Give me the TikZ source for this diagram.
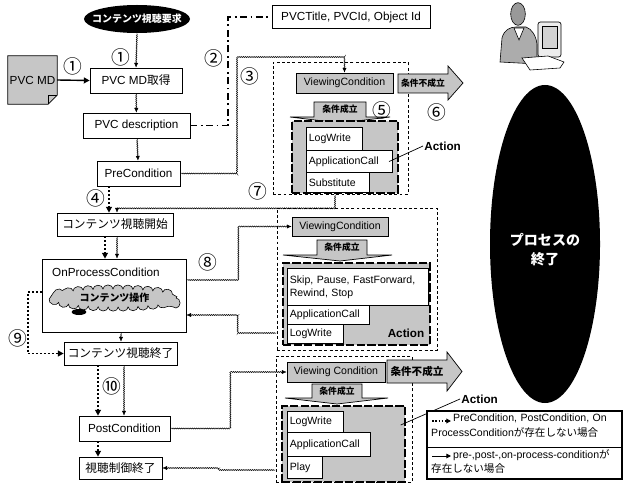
\documentclass[tikz,border=0pt]{standalone}
\usepackage{fontspec}
\usepackage{tikz}
\usetikzlibrary{arrows.meta,decorations.pathmorphing}
\setmainfont{Liberation Sans}
\newfontfamily\jpfont{Noto Sans CJK JP}
\newcommand{\ja}[1]{{\jpfont #1}}

\begin{document}
\begin{tikzpicture}[x=0.03cm, y=-0.03cm,
    box/.style={draw, line width=0.6pt, fill=white, inner sep=2pt,
        font=\fontsize{10}{12}\selectfont},
    hatch/.style={draw, line width=0.6pt, fill=gray!45, inner sep=1pt,
        font=\fontsize{9}{10}\selectfont},
    item/.style={draw, line width=0.9pt, fill=white, inner sep=2pt,
        anchor=north west, align=left, font=\fontsize{9}{11}\selectfont},
    group/.style={draw, line width=0.5pt, dash pattern=on 2.5pt off 2pt,
        inner sep=0pt},
    act/.style={draw, line width=1.2pt, dash pattern=on 7pt off 2pt,
        fill=gray!45, inner sep=0pt},
    num/.style={font=\jpfont\fontsize{16}{16}\selectfont, inner sep=0pt},
    flow/.style={line width=0.4pt, decorate,
        decoration={zigzag, amplitude=0.5pt, segment length=1.6pt,
            pre length=1pt, post length=3pt},
        -{Latex[length=4pt, width=3.5pt]}},
    skip/.style={line width=1.6pt, dash pattern=on 1.6pt off 1.8pt,
        -{Triangle[length=5pt, width=5pt]}},
    ]
    \useasboundingbox (0,0) rectangle (629,484);
    \fill[white] (0,0) rectangle (629,484);

    % Left column: request and metadata
    \fill (137,19) ellipse [x radius=1.59cm, y radius=0.42cm];
    \node[text=white, minimum width=3.18cm, minimum height=0.84cm, inner sep=0pt,
        font=\jpfont\bfseries\fontsize{8.5}{10}\selectfont] (req) at (137,19) {コンテンツ視聴要求};
    \node[minimum width=1.47cm, minimum height=1.44cm, inner sep=0pt,
        font=\fontsize{10}{12}\selectfont] (md) at (32.5,80) {};
    \filldraw[fill=gray!45, line width=0.6pt] (md.north west) -- (md.north east)
        -- ([yshift=0.27cm]md.south east) -- ([xshift=-0.27cm]md.south east)
        -- (md.south west) -- cycle;
    \draw[line width=0.6pt] ([yshift=0.27cm]md.south east) -- ([shift={(-0.27cm,0.27cm)}]md.south east)
        -- ([xshift=-0.27cm]md.south east);
    \node[font=\fontsize{10}{12}\selectfont, inner sep=0pt] (mdt) at (32.5,80) {PVC MD};

    \node[box, minimum width=2.76cm, minimum height=0.75cm] (get) at (136,80.5) {PVC MD\ja{取得}};
    \node[box, minimum width=3.21cm, minimum height=0.75cm] (desc) at (136.5,125.5) {PVC description};
    \node[box, minimum width=2.49cm, minimum height=0.75cm] (pre) at (138.5,173.5) {PreCondition};
    \node[box, minimum width=3.48cm, minimum height=0.69cm] (start) at (115,224.5) {\ja{コンテンツ視聴開始}};
    \node[box, minimum width=4.32cm, minimum height=2.19cm] (opc) at (114,295.5) {};
    \node[font=\fontsize{10}{12}\selectfont, anchor=west, inner sep=0pt] (opct) at (52,272) {OnProcessCondition};
    % cloud of user operations
    \filldraw[fill=gray!45, line width=0.5pt, decorate, decoration={bumps, segment length=17pt, amplitude=3.5pt}]
        (176,298) arc [start angle=0, end angle=-360, x radius=1.85cm, y radius=0.27cm];
    \fill (79,312) ellipse [x radius=0.22cm, y radius=0.09cm];
    \node[font=\jpfont\bfseries\fontsize{8.5}{10}\selectfont, inner sep=0pt] (ops) at (114.5,298) {コンテンツ操作};
    \node[box, minimum width=3.39cm, minimum height=0.69cm] (end) at (120.5,353.5) {\ja{コンテンツ視聴終了}};
    \node[box, minimum width=2.73cm, minimum height=0.75cm] (post) at (124.5,428.5) {PostCondition};
    \node[box, minimum width=2.49cm, minimum height=0.66cm] (stop) at (120.5,468) {\ja{視聴制御終了}};

    % Attribute box
    \node[box, minimum width=4.74cm, minimum height=0.69cm] (ttl) at (351,17) {PVCTitle, PVCId, Object Id};

    % Group 1: PreCondition
    \node[group, minimum width=4.05cm, minimum height=3.96cm] (g1) at (340.5,128) {};
    \node[hatch, minimum width=2.91cm, minimum height=0.6cm] (vc1) at (344.5,83) {ViewingCondition};
    \filldraw[fill=gray!45, line width=0.6pt] (398,74) -- (448,74) -- (448,66) -- (463,83)
        -- (448,100) -- (448,93) -- (398,93) -- cycle;
    \node[font=\jpfont\bfseries\fontsize{7.5}{9}\selectfont, inner sep=0pt] (ng1) at (423,83.5) {条件不成立};
    \filldraw[fill=gray!45, line width=0.6pt] (314,102) -- (366,102) -- (366,117) -- (390,117)
        -- (340,123) -- (290,117) -- (314,117) -- cycle;
    \node[font=\jpfont\bfseries\fontsize{7.5}{9}\selectfont, inner sep=0pt] (ok1) at (340,109.5) {条件成立};
    \node[act, minimum width=3.18cm, minimum height=2.16cm] (a1) at (345,157) {};
    \node[item, text width=1.54cm, minimum height=0.69cm] (lw1) at (306,127) {LogWrite};
    \node[item, text width=2.44cm, minimum height=0.66cm] (ac1) at (306,150) {ApplicationCall};
    \node[item, text width=1.75cm, minimum height=0.6cm] (sub1) at (306,172) {Substitute};
    \node[font=\bfseries\fontsize{10}{12}\selectfont, anchor=west, inner sep=1pt] (act1) at (423,146) {Action};
    \draw[line width=0.6pt] ([xshift=-0.12cm]ac1.east) -- (act1.west);

    % Group 2: OnProcessCondition
    \node[group, minimum width=4.8cm, minimum height=4.26cm] (g2) at (357,279) {};
    \node[hatch, minimum width=2.88cm, minimum height=0.57cm] (vc2) at (340,226.5) {ViewingCondition};
    \filldraw[fill=gray!45, line width=0.6pt] (317,240) -- (367,240) -- (367,255) -- (392,255)
        -- (340,261) -- (283,255) -- (317,255) -- cycle;
    \node[font=\jpfont\bfseries\fontsize{7.5}{9}\selectfont, inner sep=0pt] (ok2) at (342,247.5) {条件成立};
    \node[act, minimum width=4.41cm, minimum height=2.46cm] (a2) at (356.5,304) {};
    \node[item, text width=4.09cm, minimum height=1.11cm] (ops2) at (287,268) {Skip, Pause, FastForward,\\Rewind, Stop};
    \node[item, text width=2.32cm, minimum height=0.57cm] (ac2) at (287,305) {ApplicationCall};
    \node[item, text width=1.54cm, minimum height=0.57cm] (lw2) at (287,324) {LogWrite};
    \node[font=\bfseries\fontsize{10}{12}\selectfont, inner sep=0pt] (act2) at (406,333) {Action};

    % Group 3: PostCondition
    \node[group, minimum width=4.08cm, minimum height=3.78cm] (g3) at (344,419) {};
    \node[hatch, minimum width=2.94cm, minimum height=0.6cm] (vc3) at (336,372) {Viewing Condition};
    \filldraw[fill=gray!45, line width=0.6pt] (387,360) -- (447,360) -- (447,352) -- (462,371.5)
        -- (447,391) -- (447,383) -- (387,383) -- cycle;
    \node[font=\jpfont\bfseries\fontsize{9}{10}\selectfont, inner sep=0pt] (ng3) at (417,371.5) {条件不成立};
    \filldraw[fill=gray!45, line width=0.6pt] (312,384) -- (362,384) -- (362,398) -- (388,398)
        -- (337,404) -- (285,398) -- (312,398) -- cycle;
    \node[font=\jpfont\bfseries\fontsize{7.5}{9}\selectfont, inner sep=0pt] (ok3) at (337,391) {条件成立};
    \node[act, minimum width=3.69cm, minimum height=2.28cm] (a3) at (343.5,444) {};
    \node[item, text width=1.54cm, minimum height=0.63cm] (lw3) at (287,411) {LogWrite};
    \node[item, text width=2.35cm, minimum height=0.72cm] (ac3) at (287,432) {ApplicationCall};
    \node[item, text width=0.91cm, minimum height=0.66cm] (play3) at (287,456) {Play};
    \node[font=\bfseries\fontsize{10}{12}\selectfont, anchor=west, inner sep=1pt] (act3) at (460,399) {Action};
    \draw[line width=0.6pt] ([shift={(-0.15cm,0.57cm)}]a3.east) -- (act3.west);

    % End of process
    \fill (545,244) ellipse [x radius=1.65cm, y radius=4.77cm];
    \node[text=white, align=center, font=\jpfont\bfseries\fontsize{12}{16}\selectfont] (fin) at (545,250) {プロセスの\\終了};

    % Operator at the terminal
    \filldraw[fill=gray!65, line width=0.5pt] (500,62) -- (502,38) .. controls (504,30) and (510,27) .. (516,27)
        -- (526,27) .. controls (532,29) and (536,36) .. (537,44) -- (537,64) -- cycle;
    \draw[line width=0.5pt, fill=white] (514,28) -- (519,40) -- (524,28) -- cycle;
    \filldraw[fill=gray!80, line width=0.5pt] (518,14) ellipse [x radius=0.22cm, y radius=0.34cm];
    \filldraw[fill=gray!15, line width=0.6pt, rounded corners=2pt] (538,22) rectangle (561,57);
    \draw[line width=0.4pt, fill=gray!35] (542,26) rectangle (557,48);
    \filldraw[fill=white, line width=0.5pt] (522,58) -- (548,56) -- (564,62) -- (560,68) -- (530,70) -- cycle;

    % Main flow
    \draw[flow] (req.south) -- (get.north);
    \draw[line width=1.2pt, -{Triangle[length=5pt, width=5pt]}] (md.east) -- (get.west);
    \draw[flow] (get) -- (desc);
    \draw[flow] (desc) -- (pre);
    \draw[line width=1pt, dash pattern=on 6pt off 3pt on 1.5pt off 3pt] (desc.east) -- (228,125.5) |- (ttl.west);
    \draw[flow] (pre.east) -| (237,57) -| (vc1.north);
    \draw[skip] ([xshift=-0.885cm]pre.south) -- ([xshift=-0.885cm]pre.south |- start.north);
    \draw[flow] ([xshift=-0.165cm]g1.south) -- ++(0,14) -| ([xshift=0.06cm]start.north);
    \draw[skip] ([xshift=-0.3cm]start.south) -- ([xshift=-0.3cm]start.south |- opc.north);
    \draw[flow] ([xshift=0.06cm]start.south) -- ([xshift=0.06cm]start.south |- opc.north);
    \draw[flow] ([yshift=0.465cm]opc.east) -- ++(52,0) |- (vc2.west);
    \draw[flow] ([yshift=-1.62cm]g2.west) -- ++(-39,0) |- ([yshift=-0.585cm]opc.east);
    \draw[skip] ([yshift=0.1cm]opc.west) -- ++(-14,0) |- (end.west);
    \draw[flow] ([xshift=0.21cm]opc.south) -- ([xshift=0.21cm]opc.south |- end.north);
    \draw[skip] ([xshift=-0.675cm]end.south) -- ([xshift=-0.675cm]end.south |- post.north);
    \draw[flow] ([xshift=0.105cm]end.south) -- ([xshift=0.105cm]end.south |- post.north);
    \draw[skip] ([xshift=-0.795cm]post.south) -- ([xshift=-0.795cm]post.south |- stop.north);
    \draw[flow] (post.east) -- ++(60,0) |- (vc3.west);
    \draw[flow] ([yshift=-1.53cm]g3.west) -- ++(-57,0) |- (stop.east);

    % Step numbers
    \node[num] (n1a) at (121,57) {①};
    \node[num] (n1b) at (73,66) {①};
    \node[num] (n2) at (214,58) {②};
    \node[num] (n3) at (250,76) {③};
    \node[num] (n4) at (96,198) {④};
    \node[num] (n5) at (382,110) {⑤};
    \node[num] (n6) at (437,112) {⑥};
    \node[num] (n7) at (258,191) {⑦};
    \node[num] (n8) at (208,262) {⑧};
    \node[num] (n9) at (18,338) {⑨};
    \node[num] (n10) at (112,386) {⑩};

    % Legend
    \node[draw, line width=1.5pt, fill=white, minimum width=5.85cm, minimum height=2.04cm, inner sep=0pt] (key) at (524.5,445) {};
    \draw[line width=0.8pt] ([yshift=-0.06cm]key.west) -- ([yshift=-0.06cm]key.east);
    \coordinate (k1) at (432,421);
    \coordinate (k2) at (432,456);
    \draw[line width=1.3pt, dash pattern=on 1.3pt off 1.5pt, -{Triangle[length=4pt, width=4pt]}] (k1) -- ++(19,0);
    \draw[line width=0.8pt, -{Triangle[length=4pt, width=4pt]}] (k2) -- ++(19,0);
    \node[anchor=north west, text width=5.7cm, align=left, inner sep=0pt,
        font=\fontsize{9}{12.5}\selectfont] (key1) at (431,414)
        {\hspace{0.66cm}PreCondition, PostCondition, On\\ProcessCondition\ja{が存在しない場合}};
    \node[anchor=north west, text width=5.7cm, align=left, inner sep=0pt,
        font=\fontsize{9}{12.5}\selectfont] (key2) at (431,449)
        {\hspace{0.66cm}pre-,post-,on-process-condition\ja{が}\\\ja{存在しない場合}};
\end{tikzpicture}
\end{document}
